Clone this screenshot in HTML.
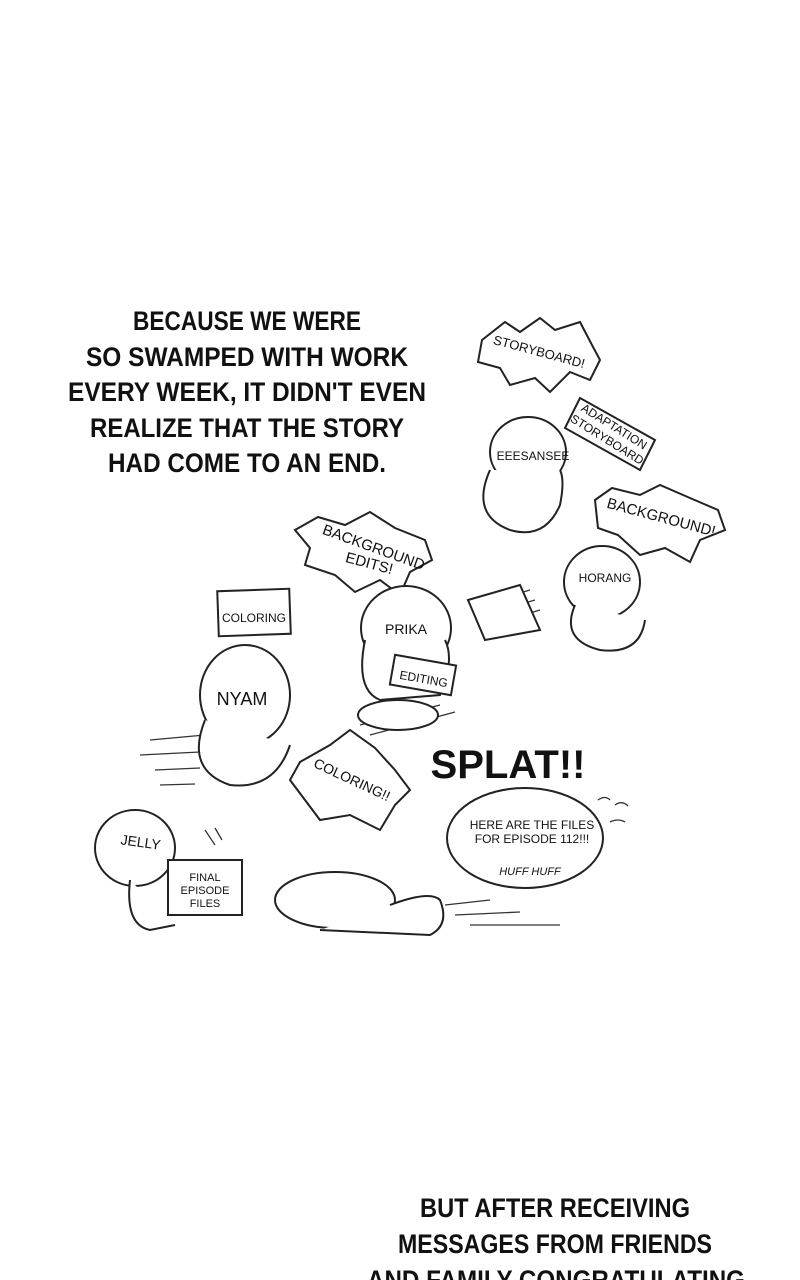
<!DOCTYPE html>
<html><head><meta charset="utf-8"><style>
html,body{margin:0;padding:0;background:#fff;width:800px;height:1280px;overflow:hidden}
svg{display:block}
text{font-family:"Liberation Sans",sans-serif;fill:#111}
</style></head><body>
<svg width="800" height="1280" viewBox="0 0 800 1280" xmlns="http://www.w3.org/2000/svg">
<g font-size="27" text-anchor="middle" font-weight="bold">
<text x="247" y="330" textLength="228" lengthAdjust="spacingAndGlyphs">BECAUSE WE WERE</text>
<text x="247" y="366" textLength="322" lengthAdjust="spacingAndGlyphs">SO SWAMPED WITH WORK</text>
<text x="247" y="401" textLength="358" lengthAdjust="spacingAndGlyphs">EVERY WEEK, IT DIDN'T EVEN</text>
<text x="247" y="437" textLength="314" lengthAdjust="spacingAndGlyphs">REALIZE THAT THE STORY</text>
<text x="247" y="472" textLength="278" lengthAdjust="spacingAndGlyphs">HAD COME TO AN END.</text>
<text x="555" y="1217" textLength="270" lengthAdjust="spacingAndGlyphs">BUT AFTER RECEIVING</text>
<text x="555" y="1253" textLength="314" lengthAdjust="spacingAndGlyphs">MESSAGES FROM FRIENDS</text>
<text x="556" y="1289" textLength="378" lengthAdjust="spacingAndGlyphs">AND FAMILY CONGRATULATING</text>
</g>
<g fill="none" stroke="#333" stroke-width="1.3">
<path d="M150,740 L205,735 M140,755 L200,752 M155,770 L200,768 M160,785 L195,784"/>
<path d="M360,725 L440,705 M370,735 L455,712"/>
<path d="M480,605 L530,590 M485,615 L535,600 M490,625 L540,610"/>
<path d="M445,905 L490,900 M455,915 L520,912 M470,925 L560,925"/>
<path d="M205,830 L215,845 M215,828 L222,840 M598,800 Q605,795 610,800 M615,805 Q622,800 628,806 M610,822 Q618,818 625,822"/>
</g>
<g fill="#fff" stroke="#222" stroke-width="2">
<polygon points="482,340 505,322 520,332 540,318 555,330 580,322 592,345 600,360 590,380 570,372 550,392 535,378 510,385 500,368 478,362"/>
<polygon points="595,500 612,488 640,495 660,485 690,498 718,510 725,530 700,540 690,562 665,548 640,555 618,535 598,528"/>
<polygon points="295,530 318,517 345,525 370,512 395,528 425,540 432,560 410,572 400,595 380,580 355,592 335,575 305,565 310,548"/>
<polygon points="300,762 330,745 350,730 375,748 395,770 410,790 395,805 380,830 350,815 320,820 305,800 290,780"/>
<ellipse cx="528" cy="452" rx="38" ry="35"/>
<path d="M490,470 Q470,515 510,530 Q545,540 560,505 Q565,480 560,470"/>
<ellipse cx="406" cy="628" rx="45" ry="42"/>
<path d="M365,640 Q355,690 380,700 L440,695 Q455,660 445,640"/>
<ellipse cx="398" cy="715" rx="40" ry="15"/>
<ellipse cx="602" cy="582" rx="38" ry="36"/>
<path d="M575,605 Q560,640 600,650 Q640,655 645,620"/>
<ellipse cx="245" cy="695" rx="45" ry="50"/>
<path d="M205,720 Q185,770 230,785 Q275,790 290,745"/>
<ellipse cx="135" cy="848" rx="40" ry="38"/>
<path d="M130,880 Q125,925 150,930 L175,925"/>
<ellipse cx="335" cy="900" rx="60" ry="28"/>
<path d="M390,905 Q430,890 440,900 Q450,925 430,935 L320,930"/>
<ellipse cx="525" cy="838" rx="78" ry="50"/>
<rect x="218" y="590" width="72" height="45" transform="rotate(-2 254 612)"/>
<polygon points="580,398 655,440 640,470 565,428"/>
<rect x="392" y="660" width="62" height="30" transform="rotate(10 423 675)"/>
<rect x="168" y="860" width="74" height="55"/>
<polygon points="468,600 520,585 540,630 485,640"/>
</g>
<g font-size="13" text-anchor="middle">
<text x="538" y="356" transform="rotate(15 538 356)">STORYBOARD!</text>
<text x="612" y="430" transform="rotate(32 612 430)" font-size="12">ADAPTATION</text>
<text x="605" y="443" transform="rotate(32 605 443)" font-size="12">STORYBOARD</text>
<text x="533" y="460" font-size="12">EEESANSEE</text>
<text x="660" y="522" transform="rotate(15 660 522)" font-size="15">BACKGROUND!</text>
<text x="372" y="552" transform="rotate(20 372 552)" font-size="15">BACKGROUND</text>
<text x="368" y="568" transform="rotate(15 368 568)" font-size="15">EDITS!</text>
<text x="605" y="582" font-size="12">HORANG</text>
<text x="254" y="622" font-size="12">COLORING</text>
<text x="406" y="634" font-size="14">PRIKA</text>
<text x="423" y="683" transform="rotate(10 423 683)" font-size="12">EDITING</text>
<text x="242" y="705" font-size="18">NYAM</text>
<text x="350" y="784" transform="rotate(25 350 784)" font-size="14">COLORING!!</text>
<text x="140" y="847" font-size="14" transform="rotate(8 140 847)">JELLY</text>
<text x="205" y="881" font-size="11">FINAL</text>
<text x="205" y="894" font-size="11">EPISODE</text>
<text x="205" y="907" font-size="11">FILES</text>
<text x="532" y="829" font-size="12">HERE ARE THE FILES</text>
<text x="532" y="843" font-size="12">FOR EPISODE 112!!!</text>
<text x="530" y="875" font-size="11" font-style="italic">HUFF  HUFF</text>
<text x="508" y="778" font-size="40" font-weight="bold" textLength="155" lengthAdjust="spacingAndGlyphs">SPLAT!!</text>
</g>
</svg>
</body></html>
